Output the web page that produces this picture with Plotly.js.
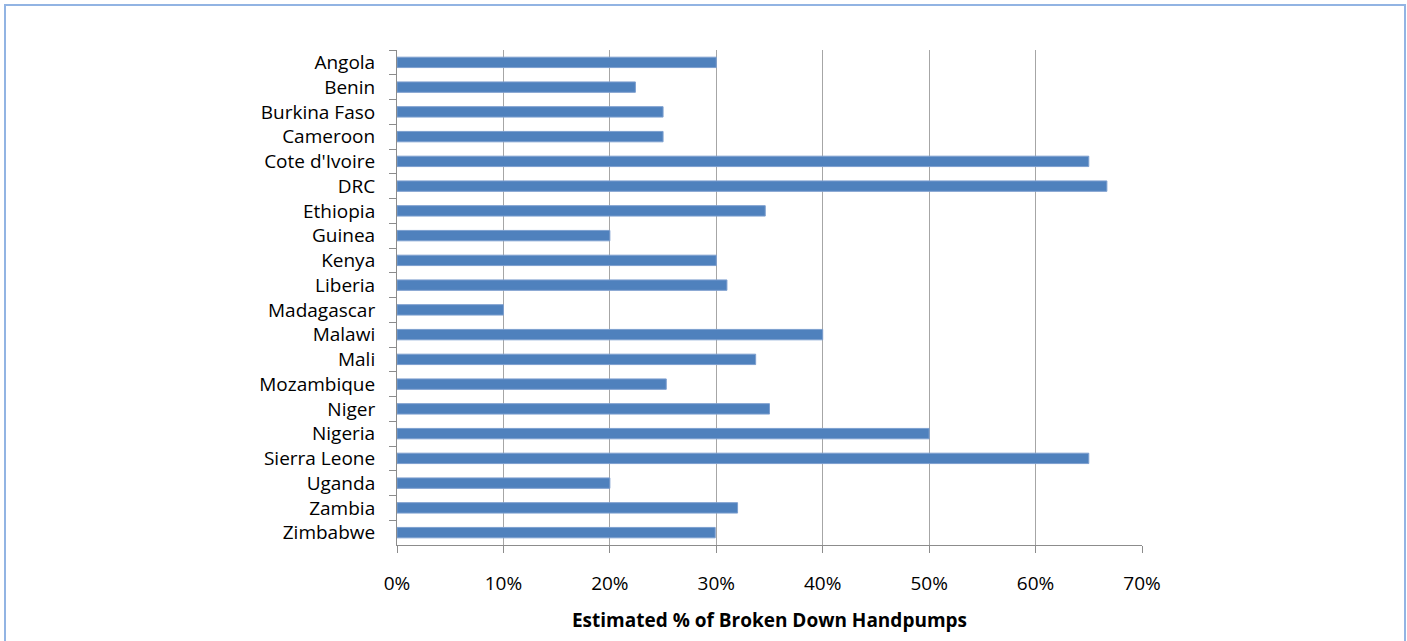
<!DOCTYPE html>
<html>
<head>
<meta charset="utf-8">
<script src="https://cdn.plot.ly/plotly-3.0.1.min.js"></script>
<style>
  html, body { margin: 0; padding: 0; background: #ffffff; }
  #wrap { position: relative; width: 1407px; height: 641px; overflow: hidden; }
  #chart { position: absolute; left: 0; top: 0; width: 1407px; height: 641px; }
  #frame { position: absolute; left: 4px; top: 4px; width: 1398px; height: 700px;
           border: 2px solid #92b4e3; pointer-events: none; }
</style>
</head>
<body>
<div id="wrap">
  <div id="chart"></div>
  <div id="frame"></div>
</div>
<script>
// Share of broken-down handpumps by country
const countries = [
  "Angola", "Benin", "Burkina Faso", "Cameroon", "Cote d'Ivoire", "DRC",
  "Ethiopia", "Guinea", "Kenya", "Liberia", "Madagascar", "Malawi", "Mali",
  "Mozambique", "Niger", "Nigeria", "Sierra Leone", "Uganda", "Zambia", "Zimbabwe"
];
const brokenShare = [
  0.30, 0.224, 0.25, 0.25, 0.65, 0.667,
  0.346, 0.20, 0.30, 0.31, 0.10, 0.40, 0.337,
  0.253, 0.35, 0.50, 0.65, 0.20, 0.32, 0.299
];
const xTickValues = [0, 0.1, 0.2, 0.3, 0.4, 0.5, 0.6, 0.7];
const xTickLabels = ["0%", "10%", "20%", "30%", "40%", "50%", "60%", "70%"];
const xAxisTitle = "Estimated % of Broken Down Handpumps";

const fontFamily = "'Open Sans', 'Noto Sans', sans-serif";

const trace = {
  type: "bar",
  orientation: "h",
  y: countries,
  x: brokenShare,
  marker: { color: "#4f81bd", line: { color: "#7d9fcf", width: 1 } },
  hoverinfo: "x+y"
};

const layout = {
  width: 1407,
  height: 641,
  margin: { l: 397, r: 265, t: 50, b: 96, pad: 0 },
  paper_bgcolor: "#ffffff",
  plot_bgcolor: "#ffffff",
  bargap: 0.58,
  showlegend: false,
  font: { family: fontFamily, color: "#000000" },
  xaxis: {
    range: [0, 0.7],
    tickvals: xTickValues,
    ticktext: xTickLabels,
    showgrid: true,
    gridcolor: "#a6a6a6",
    gridwidth: 1,
    zeroline: false,
    showline: true,
    linecolor: "#8c8c8c",
    linewidth: 1,
    ticks: "outside",
    ticklen: 7,
    tickcolor: "#8c8c8c",
    ticklabelstandoff: 14,
    tickfont: { size: 19, family: fontFamily, color: "#000000" },
    title: { text: xAxisTitle, font: { size: 19, family: fontFamily, color: "#000000", weight: "bold" }, standoff: 18 },
    fixedrange: true
  },
  yaxis: {
    type: "category",
    autorange: "reversed",
    showgrid: false,
    zeroline: false,
    showline: true,
    linecolor: "#8c8c8c",
    linewidth: 1,
    ticks: "outside",
    tickson: "boundaries",
    ticklen: 7,
    tickcolor: "#8c8c8c",
    ticklabelstandoff: 17,
    tickfont: { size: 19, family: fontFamily, color: "#000000" },
    fixedrange: true
  }
};

Plotly.newPlot("chart", [trace], layout, { displayModeBar: false, staticPlot: true });
</script>
</body>
</html>
